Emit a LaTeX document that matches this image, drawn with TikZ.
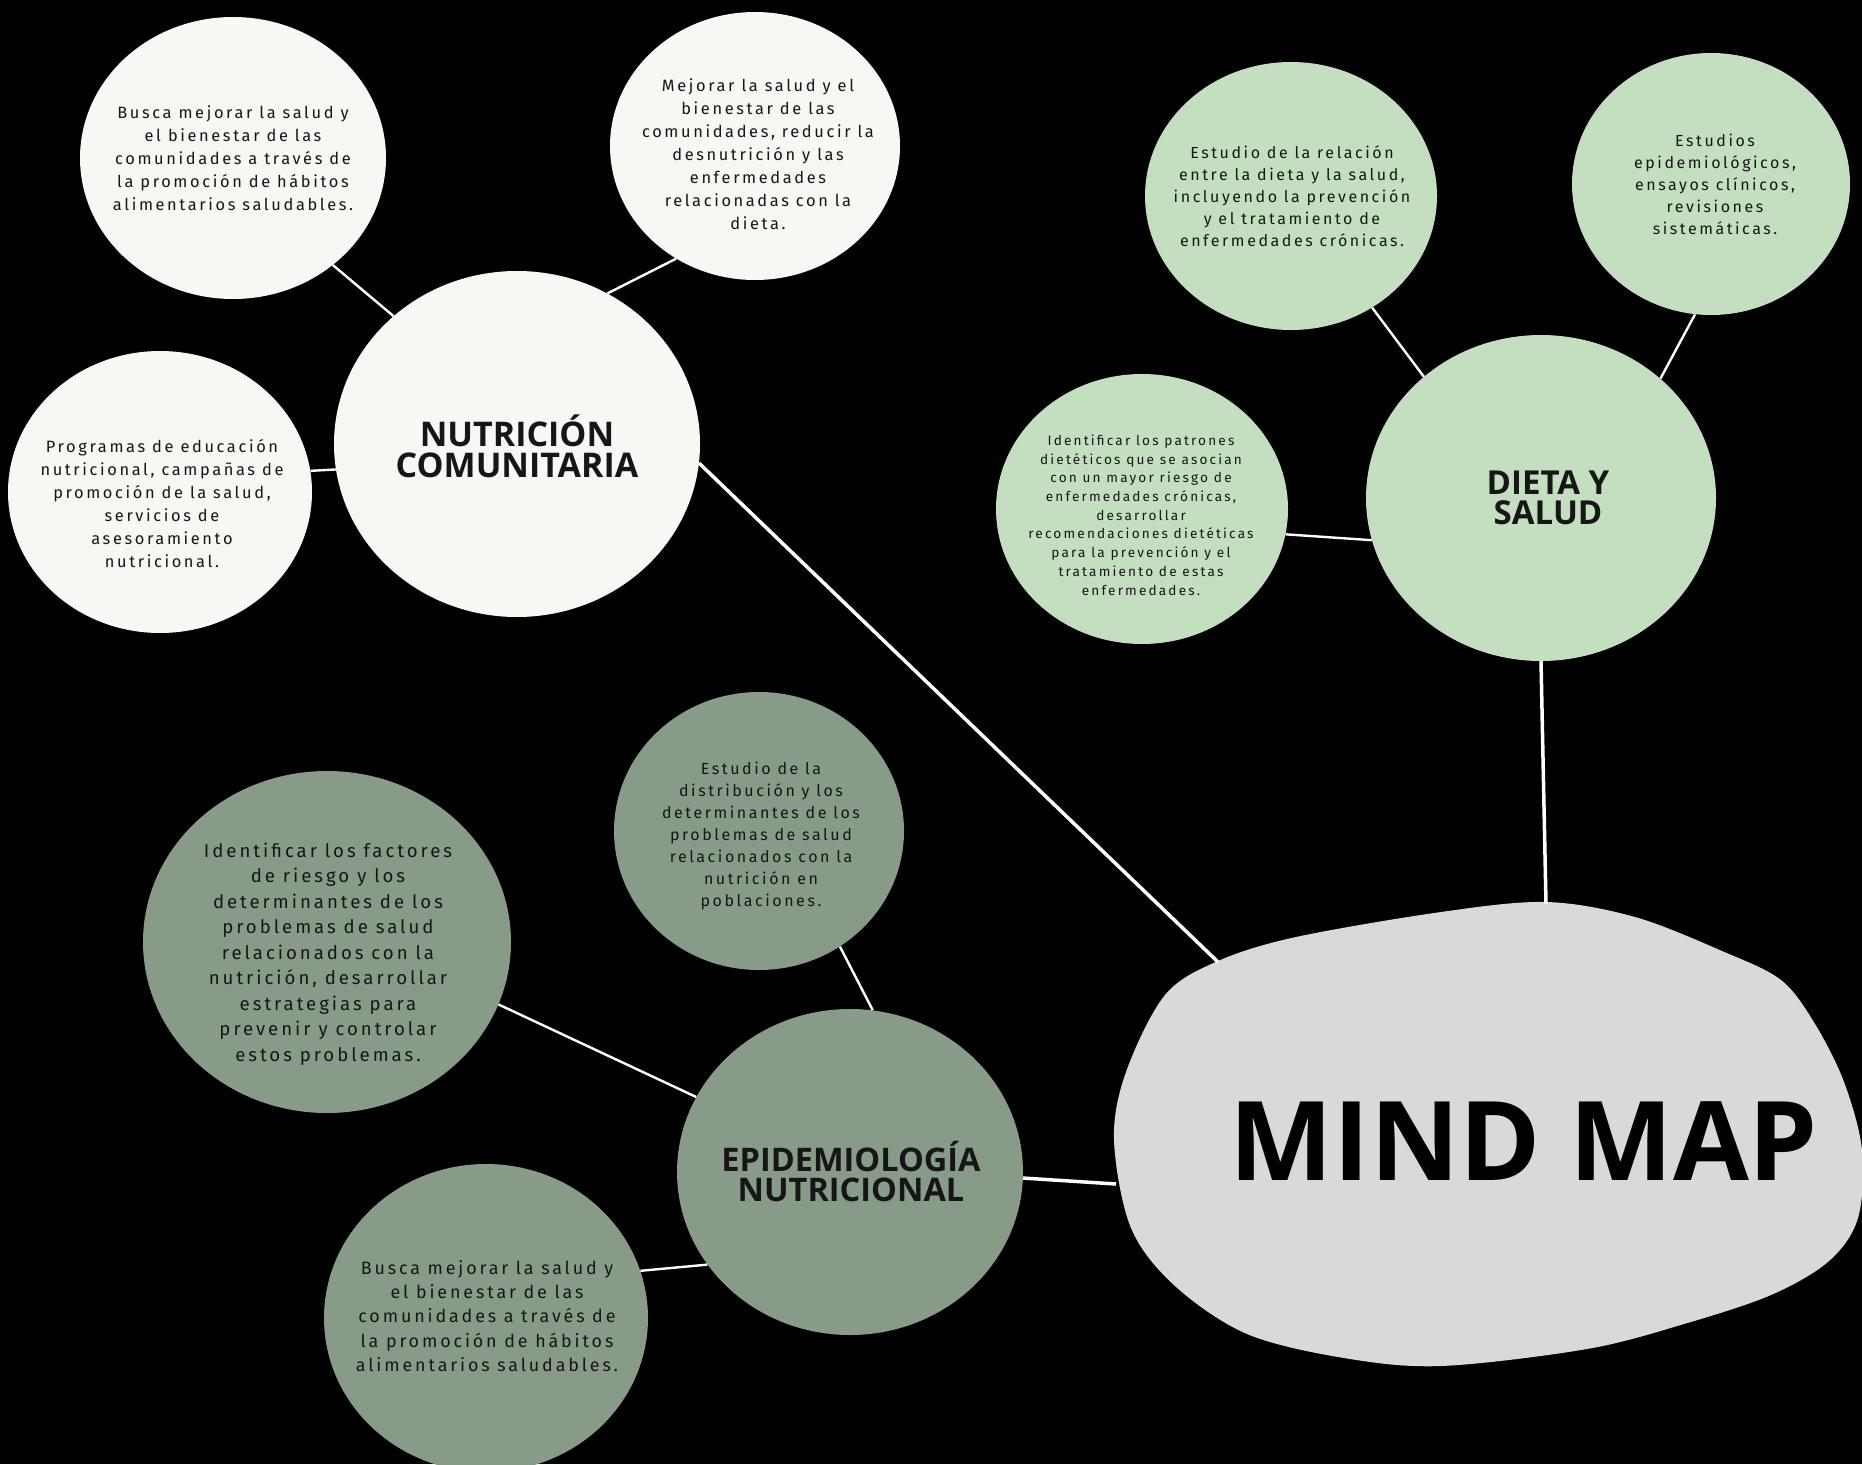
\documentclass[tikz,border=0pt]{standalone}
\usepackage{fontspec}
\setmainfont{Fira Sans}
\newfontfamily\bodyf{Fira Sans}[LetterSpace=16]
\newfontfamily\titlef{Open Sans}
\usetikzlibrary{shapes.geometric}
\definecolor{wht}{HTML}{F7F8F3}
\definecolor{lgreen}{HTML}{C4DFC0}
\definecolor{sage}{HTML}{879B88}
\definecolor{blobc}{HTML}{D9D9D9}
\definecolor{ink}{HTML}{161616}
\begin{document}
\begin{tikzpicture}[x=1pt,y=-1pt,
  bubble/.style={ellipse, inner sep=0pt, draw=none},
  wbub/.style={bubble, fill=wht},
  gbub/.style={bubble, fill=lgreen},
  sbub/.style={bubble, fill=sage},
  btxt/.style={align=center, text=ink, inner sep=0pt},
  ttl/.style={align=center, text=ink, inner sep=0pt, font=\titlef\bfseries\fontsize{34}{31}\selectfont},
  link/.style={draw=white, line width=2.4pt},
  biglink/.style={draw=white, line width=3.5pt}]
\useasboundingbox (0,0) rectangle (1862,1464);
\clip (0,0) rectangle (1862,1464);
\fill[black] (0,0) rectangle (1862,1464);

% central blob
\fill[blobc] plot[smooth cycle, tension=0.55] coordinates {
 (1546,902) (1635,917) (1722,951) (1781,980) (1815,1024) (1844,1082) (1862,1150)
 (1858,1218) (1829,1261) (1771,1295) (1684,1324) (1587,1349) (1441,1366) (1344,1358)
 (1247,1334) (1175,1286) (1131,1228) (1114,1140) (1126,1072) (1165,995) (1218,961)
 (1296,937) (1441,912)};
\coordinate (blobNC) at (1218,962);
\coordinate (blobDS) at (1546,904);
\coordinate (blobEN) at (1116,1184);
\node[text=black, inner sep=0pt, font=\titlef\bfseries\fontsize{110}{110}\selectfont] (mm) at (1524,1141) {MIND MAP};

% Nutricion comunitaria group
\node[wbub, minimum width=306pt, minimum height=282pt] (a) at (233,158) {};
\node[wbub, minimum width=290pt, minimum height=268pt] (b) at (755,146) {};
\node[wbub, minimum width=304pt, minimum height=282pt] (c) at (160,492) {};
\node[wbub, minimum width=366pt, minimum height=346pt] (nc) at (517,444) {};

% Dieta y salud group
\node[gbub, minimum width=292pt, minimum height=268pt] (g1) at (1291,196) {};
\node[gbub, minimum width=278pt, minimum height=262pt] (g2) at (1711,184) {};
\node[gbub, minimum width=292pt, minimum height=270pt] (g3) at (1142,509) {};
\node[gbub, minimum width=350pt, minimum height=326pt] (ds) at (1541,498) {};

% Epidemiologia group
\node[sbub, minimum width=290pt, minimum height=278pt] (s1) at (759,831) {};
\node[sbub, minimum width=368pt, minimum height=342pt] (s2) at (327,942) {};
\node[sbub, minimum width=346pt, minimum height=326pt] (en) at (850,1172) {};
\node[sbub, minimum width=324pt, minimum height=308pt] (s3) at (486,1318) {};

% connectors
\draw[link] (a.-47) -- (nc.134);
\draw[link] (b.-125) -- (nc.59);
\draw[link] (c.8) -- (nc.-172);
\draw[biglink] (nc.-6) -- (blobNC);
\draw[link] (g1.-54) -- (ds.134);
\draw[link] (g2.-97) -- (ds.45);
\draw[link] (g3.-10) -- (ds.-166);
\draw[biglink] (ds.south) -- (blobDS);
\draw[link] (s1.-55) -- (en.82);
\draw[link] (s2.-20) -- (en.154);
\draw[link] (s3.17) -- (en.-147);
\draw[biglink] (en.-2) -- (blobEN);

% titles
\node[ttl] (nct) at (517,446) {NUTRICIÓN\\COMUNITARIA};
\node[ttl, font=\titlef\bfseries\fontsize{33}{30}\selectfont] (dst) at (1548,498) {DIETA Y\\SALUD};
\node[ttl, font=\titlef\bfseries\fontsize{32.5}{30}\selectfont] (ent) at (851,1172) {EPIDEMIOLOGÍA\\NUTRICIONAL};

% texts
\node[btxt, font=\bodyf\fontsize{16.4}{23}\selectfont] (at) at (233,158)
 {Busca mejorar la salud y\\el bienestar de las\\comunidades a través de\\la promoción de hábitos\\alimentarios saludables.};
\node[btxt, font=\bodyf\fontsize{16.4}{23}\selectfont] (bt) at (758,154)
 {Mejorar la salud y el\\bienestar de las\\comunidades, reducir la\\desnutrición y las\\enfermedades\\relacionadas con la\\dieta.};
\node[btxt, font=\bodyf\fontsize{16.4}{23}\selectfont] (ct) at (162,504)
 {Programas de educación\\nutricional, campañas de\\promoción de la salud,\\servicios de\\asesoramiento\\nutricional.};
\node[btxt, font=\bodyf\fontsize{16}{22}\selectfont] (g1t) at (1292,196)
 {Estudio de la relación\\entre la dieta y la salud,\\incluyendo la prevención\\y el tratamiento de\\enfermedades crónicas.};
\node[btxt, font=\bodyf\fontsize{16}{22}\selectfont] (g2t) at (1715,184)
 {Estudios\\epidemiológicos,\\ensayos clínicos,\\revisiones\\sistemáticas.};
\node[btxt, font=\bodyf\fontsize{13.6}{18.7}\selectfont] (g3t) at (1141,515)
 {Identificar los patrones\\dietéticos que se asocian\\con un mayor riesgo de\\enfermedades crónicas,\\desarrollar\\recomendaciones dietéticas\\para la prevención y el\\tratamiento de estas\\enfermedades.};
\node[btxt, font=\bodyf\fontsize{16}{22}\selectfont] (s1t) at (761,836)
 {Estudio de la\\distribución y los\\determinantes de los\\problemas de salud\\relacionados con la\\nutrición en\\poblaciones.};
\node[btxt, font=\bodyf\fontsize{18.6}{25.5}\selectfont] (s2t) at (328,954)
 {Identificar los factores\\de riesgo y los\\determinantes de los\\problemas de salud\\relacionados con la\\nutrición, desarrollar\\estrategias para\\prevenir y controlar\\estos problemas.};
\node[btxt, font=\bodyf\fontsize{17.9}{24.4}\selectfont] (s3t) at (487,1316)
 {Busca mejorar la salud y\\el bienestar de las\\comunidades a través de\\la promoción de hábitos\\alimentarios saludables.};
\end{tikzpicture}
\end{document}
